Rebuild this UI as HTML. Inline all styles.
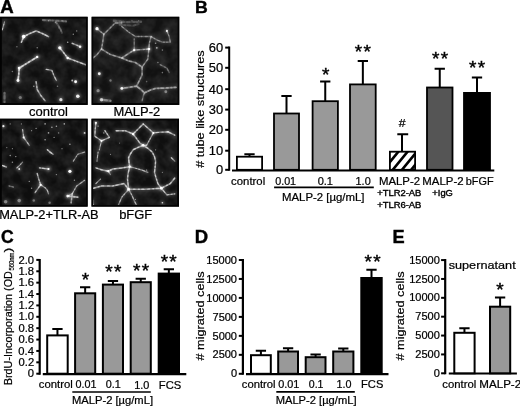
<!DOCTYPE html>
<html lang="en"><head><meta charset="utf-8"><title>Figure</title>
<style>html,body{margin:0;padding:0;background:#fff;}body{width:520px;height:408px;overflow:hidden;}svg{display:block;}</style>
</head><body>
<svg width="520" height="408" viewBox="0 0 520 408" font-family='"Liberation Sans", Arial, sans-serif' fill="#000">
<defs>
<filter id="blur1" x="-5%" y="-5%" width="110%" height="110%"><feGaussianBlur stdDeviation="0.6"/></filter>
<filter id="blur2" x="-5%" y="-5%" width="110%" height="110%"><feGaussianBlur stdDeviation="1.6"/></filter>
<filter id="noise1" x="0" y="0" width="100%" height="100%"><feTurbulence type="fractalNoise" baseFrequency="0.09" numOctaves="3" seed="7"/><feColorMatrix type="matrix" values="0 0 0 0 1  0 0 0 0 1  0 0 0 0 1  0.18 0 0 0 -0.055"/></filter>
<filter id="noise2" x="0" y="0" width="100%" height="100%"><feTurbulence type="fractalNoise" baseFrequency="0.09" numOctaves="3" seed="14"/><feColorMatrix type="matrix" values="0 0 0 0 1  0 0 0 0 1  0 0 0 0 1  0.18 0 0 0 -0.055"/></filter>
<filter id="noise3" x="0" y="0" width="100%" height="100%"><feTurbulence type="fractalNoise" baseFrequency="0.09" numOctaves="3" seed="21"/><feColorMatrix type="matrix" values="0 0 0 0 1  0 0 0 0 1  0 0 0 0 1  0.18 0 0 0 -0.055"/></filter>
<filter id="noise4" x="0" y="0" width="100%" height="100%"><feTurbulence type="fractalNoise" baseFrequency="0.09" numOctaves="3" seed="28"/><feColorMatrix type="matrix" values="0 0 0 0 1  0 0 0 0 1  0 0 0 0 1  0.18 0 0 0 -0.055"/></filter>
<clipPath id="clip1"><rect x="0" y="16.6" width="87.8" height="88.3"/></clipPath>
<clipPath id="clip2"><rect x="91.4" y="16.6" width="88.1" height="88.3"/></clipPath>
<clipPath id="clip3"><rect x="0" y="118.5" width="87.8" height="88.3"/></clipPath>
<clipPath id="clip4"><rect x="91.3" y="118.5" width="87.7" height="88.3"/></clipPath>
</defs>
<rect width="520" height="408" fill="#fff"/>
<text transform="translate(0.33 12.60) scale(1.0661 1)" font-size="17.5" font-weight="bold" stroke="#000" stroke-width="0.4">A</text>
<g clip-path="url(#clip1)">
<rect x="0" y="16.6" width="87.8" height="88.3" fill="#0f0f0f"/>
<rect x="0" y="16.6" width="87.8" height="88.3" fill="#fff" filter="url(#noise1)"/>
<g filter="url(#blur2)">
<path d="M2.3 29.8L3.6 25.3L4.5 21.9" stroke="#fff" stroke-width="3.00" stroke-opacity="0.16" fill="none" stroke-linecap="round" stroke-linejoin="round"/>
<path d="M21.4 42.2L23.7 36.6L29.3 33.8L36.1 30.9L42.9 33.8L48.5 36.6" stroke="#fff" stroke-width="3.40" stroke-opacity="0.18" fill="none" stroke-linecap="round" stroke-linejoin="round"/>
<path d="M59.8 47.8L64.3 53.5L67.7 58.0L76.7 61.4L85.7 64.8" stroke="#fff" stroke-width="3.40" stroke-opacity="0.18" fill="none" stroke-linecap="round" stroke-linejoin="round"/>
<path d="M72.2 43.3L76.7 45.1L80.1 46.7" stroke="#fff" stroke-width="3.30" stroke-opacity="0.16" fill="none" stroke-linecap="round" stroke-linejoin="round"/>
<path d="M37.2 56.9L28.2 62.5L19.2 68.1L18.7 74.9L18.0 80.5" stroke="#fff" stroke-width="3.60" stroke-opacity="0.19" fill="none" stroke-linecap="round" stroke-linejoin="round"/>
<path d="M46.2 69.3L51.9 70.4L54.1 76.0L56.4 80.5" stroke="#fff" stroke-width="3.20" stroke-opacity="0.16" fill="none" stroke-linecap="round" stroke-linejoin="round"/>
<path d="M36.1 81.7L37.2 89.6L40.6 95.2L45.1 100.8" stroke="#fff" stroke-width="3.40" stroke-opacity="0.15" fill="none" stroke-linecap="round" stroke-linejoin="round"/>
<path d="M4.5 92.9L4.5 102.0" stroke="#fff" stroke-width="4.30" stroke-opacity="0.06" fill="none" stroke-linecap="round" stroke-linejoin="round"/>
<path d="M42.9 20.1L54.1 20.5L66.1 21.4" stroke="#fff" stroke-width="4.00" stroke-opacity="0.06" fill="none" stroke-linecap="round" stroke-linejoin="round"/>
<path d="M55.9 22.1L60.0 28.0L62.0 32.9" stroke="#fff" stroke-width="3.80" stroke-opacity="0.06" fill="none" stroke-linecap="round" stroke-linejoin="round"/>
<circle cx="23.7" cy="36.6" r="3.00" fill="#fff" fill-opacity="0.35"/>
<circle cx="59.8" cy="47.8" r="2.80" fill="#fff" fill-opacity="0.35"/>
<circle cx="80.1" cy="46.7" r="2.40" fill="#fff" fill-opacity="0.32"/>
<circle cx="19.2" cy="68.1" r="2.60" fill="#fff" fill-opacity="0.35"/>
<circle cx="18.0" cy="80.5" r="2.60" fill="#fff" fill-opacity="0.35"/>
<circle cx="75.6" cy="81.7" r="2.60" fill="#fff" fill-opacity="0.35"/>
<circle cx="77.8" cy="96.3" r="3.00" fill="#fff" fill-opacity="0.32"/>
<circle cx="60.9" cy="99.7" r="2.80" fill="#fff" fill-opacity="0.28"/>
<circle cx="20.3" cy="97.5" r="2.80" fill="#fff" fill-opacity="0.12"/>
<circle cx="67.7" cy="58.0" r="2.40" fill="#fff" fill-opacity="0.35"/>
<circle cx="37.2" cy="56.9" r="2.30" fill="#fff" fill-opacity="0.35"/>
</g>
<g filter="url(#blur1)">
<path d="M2.3 29.8L3.6 25.3L4.5 21.9" stroke="#fff" stroke-width="1.14" stroke-opacity="0.44" fill="none" stroke-linecap="round" stroke-linejoin="round"/>
<path d="M2.3 29.8L3.6 25.3L4.5 21.9" stroke="#fff" stroke-width="1.08" stroke-opacity="0.44" stroke-dasharray="1.5 3.5 0.8 2.6 2 4" fill="none" stroke-linecap="round" stroke-linejoin="round"/>
<path d="M21.4 42.2L23.7 36.6L29.3 33.8L36.1 30.9L42.9 33.8L48.5 36.6" stroke="#fff" stroke-width="1.52" stroke-opacity="0.50" fill="none" stroke-linecap="round" stroke-linejoin="round"/>
<path d="M21.4 42.2L23.7 36.6L29.3 33.8L36.1 30.9L42.9 33.8L48.5 36.6" stroke="#fff" stroke-width="1.44" stroke-opacity="0.50" stroke-dasharray="0.8 2.4 2.2 3.6 1.2 3" fill="none" stroke-linecap="round" stroke-linejoin="round"/>
<path d="M59.8 47.8L64.3 53.5L67.7 58.0L76.7 61.4L85.7 64.8" stroke="#fff" stroke-width="1.52" stroke-opacity="0.50" fill="none" stroke-linecap="round" stroke-linejoin="round"/>
<path d="M59.8 47.8L64.3 53.5L67.7 58.0L76.7 61.4L85.7 64.8" stroke="#fff" stroke-width="1.44" stroke-opacity="0.50" stroke-dasharray="2 4.2 1 2.2 0.6 3.4" fill="none" stroke-linecap="round" stroke-linejoin="round"/>
<path d="M72.2 43.3L76.7 45.1L80.1 46.7" stroke="#fff" stroke-width="1.42" stroke-opacity="0.44" fill="none" stroke-linecap="round" stroke-linejoin="round"/>
<path d="M72.2 43.3L76.7 45.1L80.1 46.7" stroke="#fff" stroke-width="1.35" stroke-opacity="0.44" stroke-dasharray="1.5 3.5 0.8 2.6 2 4" fill="none" stroke-linecap="round" stroke-linejoin="round"/>
<path d="M37.2 56.9L28.2 62.5L19.2 68.1L18.7 74.9L18.0 80.5" stroke="#fff" stroke-width="1.71" stroke-opacity="0.52" fill="none" stroke-linecap="round" stroke-linejoin="round"/>
<path d="M37.2 56.9L28.2 62.5L19.2 68.1L18.7 74.9L18.0 80.5" stroke="#fff" stroke-width="1.62" stroke-opacity="0.52" stroke-dasharray="0.8 2.4 2.2 3.6 1.2 3" fill="none" stroke-linecap="round" stroke-linejoin="round"/>
<path d="M46.2 69.3L51.9 70.4L54.1 76.0L56.4 80.5" stroke="#fff" stroke-width="1.33" stroke-opacity="0.44" fill="none" stroke-linecap="round" stroke-linejoin="round"/>
<path d="M46.2 69.3L51.9 70.4L54.1 76.0L56.4 80.5" stroke="#fff" stroke-width="1.26" stroke-opacity="0.44" stroke-dasharray="2 4.2 1 2.2 0.6 3.4" fill="none" stroke-linecap="round" stroke-linejoin="round"/>
<path d="M36.1 81.7L37.2 89.6L40.6 95.2L45.1 100.8" stroke="#fff" stroke-width="1.52" stroke-opacity="0.41" fill="none" stroke-linecap="round" stroke-linejoin="round"/>
<path d="M36.1 81.7L37.2 89.6L40.6 95.2L45.1 100.8" stroke="#fff" stroke-width="1.44" stroke-opacity="0.41" stroke-dasharray="1.5 3.5 0.8 2.6 2 4" fill="none" stroke-linecap="round" stroke-linejoin="round"/>
<path d="M4.5 92.9L4.5 102.0" stroke="#fff" stroke-width="2.38" stroke-opacity="0.17" fill="none" stroke-linecap="round" stroke-linejoin="round"/>
<path d="M4.5 92.9L4.5 102.0" stroke="#fff" stroke-width="2.25" stroke-opacity="0.17" stroke-dasharray="0.8 2.4 2.2 3.6 1.2 3" fill="none" stroke-linecap="round" stroke-linejoin="round"/>
<path d="M42.9 20.1L54.1 20.5L66.1 21.4" stroke="#fff" stroke-width="2.09" stroke-opacity="0.18" fill="none" stroke-linecap="round" stroke-linejoin="round"/>
<path d="M42.9 20.1L54.1 20.5L66.1 21.4" stroke="#fff" stroke-width="1.98" stroke-opacity="0.18" stroke-dasharray="2 4.2 1 2.2 0.6 3.4" fill="none" stroke-linecap="round" stroke-linejoin="round"/>
<path d="M55.9 22.1L60.0 28.0L62.0 32.9" stroke="#fff" stroke-width="1.90" stroke-opacity="0.18" fill="none" stroke-linecap="round" stroke-linejoin="round"/>
<path d="M55.9 22.1L60.0 28.0L62.0 32.9" stroke="#fff" stroke-width="1.80" stroke-opacity="0.18" stroke-dasharray="1.5 3.5 0.8 2.6 2 4" fill="none" stroke-linecap="round" stroke-linejoin="round"/>
<circle cx="23.7" cy="36.6" r="1.80" fill="#fff" fill-opacity="1"/>
<circle cx="59.8" cy="47.8" r="1.62" fill="#fff" fill-opacity="1"/>
<circle cx="80.1" cy="46.7" r="1.26" fill="#fff" fill-opacity="0.9"/>
<circle cx="19.2" cy="68.1" r="1.44" fill="#fff" fill-opacity="1"/>
<circle cx="18.0" cy="80.5" r="1.44" fill="#fff" fill-opacity="1"/>
<circle cx="75.6" cy="81.7" r="1.44" fill="#fff" fill-opacity="1"/>
<circle cx="77.8" cy="96.3" r="1.80" fill="#fff" fill-opacity="0.9"/>
<circle cx="60.9" cy="99.7" r="1.62" fill="#fff" fill-opacity="0.8"/>
<circle cx="20.3" cy="97.5" r="1.62" fill="#fff" fill-opacity="0.35"/>
<circle cx="67.7" cy="58.0" r="1.26" fill="#fff" fill-opacity="1"/>
<circle cx="37.2" cy="56.9" r="1.17" fill="#fff" fill-opacity="1"/>
<circle cx="48.5" cy="20.8" r="0.7" fill="#fff" fill-opacity="0.35"/>
<circle cx="55.3" cy="22.6" r="0.7" fill="#fff" fill-opacity="0.35"/>
<circle cx="62.0" cy="20.8" r="0.7" fill="#fff" fill-opacity="0.35"/>
<circle cx="59.1" cy="28.0" r="0.8" fill="#fff" fill-opacity="0.4"/>
<circle cx="67.7" cy="42.2" r="0.8" fill="#fff" fill-opacity="0.6"/>
<circle cx="73.3" cy="34.3" r="0.7" fill="#fff" fill-opacity="0.5"/>
<circle cx="76.7" cy="30.9" r="0.7" fill="#fff" fill-opacity="0.5"/>
<circle cx="37.2" cy="47.8" r="0.7" fill="#fff" fill-opacity="0.5"/>
<circle cx="12.4" cy="71.5" r="0.8" fill="#fff" fill-opacity="0.4"/>
<circle cx="16.9" cy="46.7" r="0.7" fill="#fff" fill-opacity="0.4"/>
<circle cx="72.2" cy="80.5" r="0.9" fill="#fff" fill-opacity="0.7"/>
<circle cx="57.5" cy="86.2" r="0.8" fill="#fff" fill-opacity="0.4"/>
<circle cx="33.8" cy="86.2" r="0.8" fill="#fff" fill-opacity="0.5"/>
</g>
<rect x="0.9" y="17.5" width="86.0" height="86.5" fill="none" stroke="#030303" stroke-width="1.8"/>
</g>
<g clip-path="url(#clip2)">
<rect x="91.4" y="16.6" width="88.1" height="88.3" fill="#121212"/>
<rect x="91.4" y="16.6" width="88.1" height="88.3" fill="#fff" filter="url(#noise2)"/>
<g filter="url(#blur2)">
<path d="M97.0 28.7L103.8 34.3L102.7 42.2L101.5 49.0L97.0 54.6L93.0 58.0" stroke="#fff" stroke-width="3.30" stroke-opacity="0.11" fill="none" stroke-linecap="round" stroke-linejoin="round"/>
<path d="M103.8 34.3L109.4 28.7L115.1 23.0L121.8 23.0" stroke="#fff" stroke-width="3.30" stroke-opacity="0.10" fill="none" stroke-linecap="round" stroke-linejoin="round"/>
<path d="M121.8 26.4L128.6 32.0L135.4 36.5L143.2 36.5L151.1 36.5L156.8 39.9L162.4 42.2L170.3 42.2L169.2 36.5L166.9 30.9" stroke="#fff" stroke-width="3.20" stroke-opacity="0.10" fill="none" stroke-linecap="round" stroke-linejoin="round"/>
<path d="M151.1 36.5L149.3 43.3L148.9 49.0L147.8 59.1L142.1 67.0" stroke="#fff" stroke-width="3.30" stroke-opacity="0.11" fill="none" stroke-linecap="round" stroke-linejoin="round"/>
<path d="M134.2 38.8L134.2 44.4L134.2 50.1" stroke="#fff" stroke-width="3.10" stroke-opacity="0.09" fill="none" stroke-linecap="round" stroke-linejoin="round"/>
<path d="M101.5 49.0L110.5 54.6L121.8 58.0L128.6 53.5L134.2 50.1L142.1 49.6L148.9 49.0" stroke="#fff" stroke-width="3.40" stroke-opacity="0.12" fill="none" stroke-linecap="round" stroke-linejoin="round"/>
<path d="M121.8 58.0L128.6 60.9L135.4 62.5L142.1 67.0L142.1 74.9L139.4 80.5L136.5 86.2" stroke="#fff" stroke-width="3.50" stroke-opacity="0.12" fill="none" stroke-linecap="round" stroke-linejoin="round"/>
<path d="M121.8 88.4L128.6 87.3L136.5 86.2L141.0 89.5L144.4 92.9L150.0 90.2L155.6 88.4L165.8 88.0L175.9 87.3" stroke="#fff" stroke-width="3.70" stroke-opacity="0.12" fill="none" stroke-linecap="round" stroke-linejoin="round"/>
<path d="M144.4 92.9L143.2 96.3L142.1 100.8" stroke="#fff" stroke-width="3.30" stroke-opacity="0.09" fill="none" stroke-linecap="round" stroke-linejoin="round"/>
<path d="M160.2 64.7L166.9 68.1L169.2 72.6" stroke="#fff" stroke-width="3.20" stroke-opacity="0.08" fill="none" stroke-linecap="round" stroke-linejoin="round"/>
<path d="M101.5 99.7L110.5 100.8" stroke="#fff" stroke-width="4.30" stroke-opacity="0.09" fill="none" stroke-linecap="round" stroke-linejoin="round"/>
<path d="M113.9 20.8L126.3 22.1L141.0 21.7" stroke="#fff" stroke-width="4.40" stroke-opacity="0.04" fill="none" stroke-linecap="round" stroke-linejoin="round"/>
<path d="M119.6 24.8L133.1 25.7L138.7 24.1" stroke="#fff" stroke-width="4.00" stroke-opacity="0.04" fill="none" stroke-linecap="round" stroke-linejoin="round"/>
<circle cx="97.0" cy="28.7" r="2.80" fill="#fff" fill-opacity="0.35"/>
<circle cx="99.3" cy="73.8" r="2.60" fill="#fff" fill-opacity="0.32"/>
<circle cx="98.1" cy="90.7" r="2.80" fill="#fff" fill-opacity="0.14"/>
<circle cx="121.8" cy="88.4" r="2.60" fill="#fff" fill-opacity="0.32"/>
<circle cx="148.9" cy="49.0" r="2.50" fill="#fff" fill-opacity="0.35"/>
<circle cx="134.2" cy="50.1" r="2.30" fill="#fff" fill-opacity="0.35"/>
<circle cx="166.9" cy="30.9" r="2.20" fill="#fff" fill-opacity="0.32"/>
<circle cx="165.8" cy="91.8" r="2.60" fill="#fff" fill-opacity="0.14"/>
<circle cx="101.5" cy="99.7" r="3.00" fill="#fff" fill-opacity="0.21"/>
<circle cx="110.5" cy="80.5" r="2.30" fill="#fff" fill-opacity="0.12"/>
<circle cx="156.8" cy="47.8" r="2.00" fill="#fff" fill-opacity="0.21"/>
</g>
<g filter="url(#blur1)">
<path d="M97.0 28.7L103.8 34.3L102.7 42.2L101.5 49.0L97.0 54.6L93.0 58.0" stroke="#fff" stroke-width="1.42" stroke-opacity="0.30" fill="none" stroke-linecap="round" stroke-linejoin="round"/>
<path d="M97.0 28.7L103.8 34.3L102.7 42.2L101.5 49.0L97.0 54.6L93.0 58.0" stroke="#fff" stroke-width="1.35" stroke-opacity="0.30" stroke-dasharray="1.5 3.5 0.8 2.6 2 4" fill="none" stroke-linecap="round" stroke-linejoin="round"/>
<path d="M103.8 34.3L109.4 28.7L115.1 23.0L121.8 23.0" stroke="#fff" stroke-width="1.42" stroke-opacity="0.28" fill="none" stroke-linecap="round" stroke-linejoin="round"/>
<path d="M103.8 34.3L109.4 28.7L115.1 23.0L121.8 23.0" stroke="#fff" stroke-width="1.35" stroke-opacity="0.28" stroke-dasharray="0.8 2.4 2.2 3.6 1.2 3" fill="none" stroke-linecap="round" stroke-linejoin="round"/>
<path d="M121.8 26.4L128.6 32.0L135.4 36.5L143.2 36.5L151.1 36.5L156.8 39.9L162.4 42.2L170.3 42.2L169.2 36.5L166.9 30.9" stroke="#fff" stroke-width="1.33" stroke-opacity="0.28" fill="none" stroke-linecap="round" stroke-linejoin="round"/>
<path d="M121.8 26.4L128.6 32.0L135.4 36.5L143.2 36.5L151.1 36.5L156.8 39.9L162.4 42.2L170.3 42.2L169.2 36.5L166.9 30.9" stroke="#fff" stroke-width="1.26" stroke-opacity="0.28" stroke-dasharray="2 4.2 1 2.2 0.6 3.4" fill="none" stroke-linecap="round" stroke-linejoin="round"/>
<path d="M151.1 36.5L149.3 43.3L148.9 49.0L147.8 59.1L142.1 67.0" stroke="#fff" stroke-width="1.42" stroke-opacity="0.30" fill="none" stroke-linecap="round" stroke-linejoin="round"/>
<path d="M151.1 36.5L149.3 43.3L148.9 49.0L147.8 59.1L142.1 67.0" stroke="#fff" stroke-width="1.35" stroke-opacity="0.30" stroke-dasharray="1.5 3.5 0.8 2.6 2 4" fill="none" stroke-linecap="round" stroke-linejoin="round"/>
<path d="M134.2 38.8L134.2 44.4L134.2 50.1" stroke="#fff" stroke-width="1.23" stroke-opacity="0.24" fill="none" stroke-linecap="round" stroke-linejoin="round"/>
<path d="M134.2 38.8L134.2 44.4L134.2 50.1" stroke="#fff" stroke-width="1.17" stroke-opacity="0.24" stroke-dasharray="0.8 2.4 2.2 3.6 1.2 3" fill="none" stroke-linecap="round" stroke-linejoin="round"/>
<path d="M101.5 49.0L110.5 54.6L121.8 58.0L128.6 53.5L134.2 50.1L142.1 49.6L148.9 49.0" stroke="#fff" stroke-width="1.52" stroke-opacity="0.32" fill="none" stroke-linecap="round" stroke-linejoin="round"/>
<path d="M101.5 49.0L110.5 54.6L121.8 58.0L128.6 53.5L134.2 50.1L142.1 49.6L148.9 49.0" stroke="#fff" stroke-width="1.44" stroke-opacity="0.32" stroke-dasharray="2 4.2 1 2.2 0.6 3.4" fill="none" stroke-linecap="round" stroke-linejoin="round"/>
<path d="M121.8 58.0L128.6 60.9L135.4 62.5L142.1 67.0L142.1 74.9L139.4 80.5L136.5 86.2" stroke="#fff" stroke-width="1.61" stroke-opacity="0.32" fill="none" stroke-linecap="round" stroke-linejoin="round"/>
<path d="M121.8 58.0L128.6 60.9L135.4 62.5L142.1 67.0L142.1 74.9L139.4 80.5L136.5 86.2" stroke="#fff" stroke-width="1.53" stroke-opacity="0.32" stroke-dasharray="1.5 3.5 0.8 2.6 2 4" fill="none" stroke-linecap="round" stroke-linejoin="round"/>
<path d="M121.8 88.4L128.6 87.3L136.5 86.2L141.0 89.5L144.4 92.9L150.0 90.2L155.6 88.4L165.8 88.0L175.9 87.3" stroke="#fff" stroke-width="1.80" stroke-opacity="0.32" fill="none" stroke-linecap="round" stroke-linejoin="round"/>
<path d="M121.8 88.4L128.6 87.3L136.5 86.2L141.0 89.5L144.4 92.9L150.0 90.2L155.6 88.4L165.8 88.0L175.9 87.3" stroke="#fff" stroke-width="1.71" stroke-opacity="0.32" stroke-dasharray="0.8 2.4 2.2 3.6 1.2 3" fill="none" stroke-linecap="round" stroke-linejoin="round"/>
<path d="M144.4 92.9L143.2 96.3L142.1 100.8" stroke="#fff" stroke-width="1.42" stroke-opacity="0.24" fill="none" stroke-linecap="round" stroke-linejoin="round"/>
<path d="M144.4 92.9L143.2 96.3L142.1 100.8" stroke="#fff" stroke-width="1.35" stroke-opacity="0.24" stroke-dasharray="2 4.2 1 2.2 0.6 3.4" fill="none" stroke-linecap="round" stroke-linejoin="round"/>
<path d="M160.2 64.7L166.9 68.1L169.2 72.6" stroke="#fff" stroke-width="1.33" stroke-opacity="0.22" fill="none" stroke-linecap="round" stroke-linejoin="round"/>
<path d="M160.2 64.7L166.9 68.1L169.2 72.6" stroke="#fff" stroke-width="1.26" stroke-opacity="0.22" stroke-dasharray="1.5 3.5 0.8 2.6 2 4" fill="none" stroke-linecap="round" stroke-linejoin="round"/>
<path d="M101.5 99.7L110.5 100.8" stroke="#fff" stroke-width="2.38" stroke-opacity="0.24" fill="none" stroke-linecap="round" stroke-linejoin="round"/>
<path d="M101.5 99.7L110.5 100.8" stroke="#fff" stroke-width="2.25" stroke-opacity="0.24" stroke-dasharray="0.8 2.4 2.2 3.6 1.2 3" fill="none" stroke-linecap="round" stroke-linejoin="round"/>
<path d="M113.9 20.8L126.3 22.1L141.0 21.7" stroke="#fff" stroke-width="2.47" stroke-opacity="0.12" fill="none" stroke-linecap="round" stroke-linejoin="round"/>
<path d="M113.9 20.8L126.3 22.1L141.0 21.7" stroke="#fff" stroke-width="2.34" stroke-opacity="0.12" stroke-dasharray="2 4.2 1 2.2 0.6 3.4" fill="none" stroke-linecap="round" stroke-linejoin="round"/>
<path d="M119.6 24.8L133.1 25.7L138.7 24.1" stroke="#fff" stroke-width="2.09" stroke-opacity="0.11" fill="none" stroke-linecap="round" stroke-linejoin="round"/>
<path d="M119.6 24.8L133.1 25.7L138.7 24.1" stroke="#fff" stroke-width="1.98" stroke-opacity="0.11" stroke-dasharray="1.5 3.5 0.8 2.6 2 4" fill="none" stroke-linecap="round" stroke-linejoin="round"/>
<circle cx="97.0" cy="28.7" r="1.62" fill="#fff" fill-opacity="1"/>
<circle cx="99.3" cy="73.8" r="1.44" fill="#fff" fill-opacity="0.9"/>
<circle cx="98.1" cy="90.7" r="1.62" fill="#fff" fill-opacity="0.4"/>
<circle cx="121.8" cy="88.4" r="1.44" fill="#fff" fill-opacity="0.9"/>
<circle cx="148.9" cy="49.0" r="1.35" fill="#fff" fill-opacity="1"/>
<circle cx="134.2" cy="50.1" r="1.17" fill="#fff" fill-opacity="1"/>
<circle cx="166.9" cy="30.9" r="1.08" fill="#fff" fill-opacity="0.9"/>
<circle cx="165.8" cy="91.8" r="1.44" fill="#fff" fill-opacity="0.4"/>
<circle cx="101.5" cy="99.7" r="1.80" fill="#fff" fill-opacity="0.6"/>
<circle cx="110.5" cy="80.5" r="1.17" fill="#fff" fill-opacity="0.35"/>
<circle cx="156.8" cy="47.8" r="0.90" fill="#fff" fill-opacity="0.6"/>
<circle cx="121.8" cy="21.9" r="0.7" fill="#fff" fill-opacity="0.3"/>
<circle cx="132.0" cy="20.8" r="0.7" fill="#fff" fill-opacity="0.3"/>
<circle cx="138.7" cy="20.8" r="0.7" fill="#fff" fill-opacity="0.3"/>
<circle cx="155.6" cy="43.3" r="0.8" fill="#fff" fill-opacity="0.5"/>
<circle cx="162.4" cy="50.1" r="0.8" fill="#fff" fill-opacity="0.4"/>
<circle cx="157.9" cy="62.5" r="0.8" fill="#fff" fill-opacity="0.4"/>
<circle cx="146.6" cy="81.6" r="0.8" fill="#fff" fill-opacity="0.3"/>
<circle cx="162.4" cy="72.6" r="0.8" fill="#fff" fill-opacity="0.4"/>
</g>
<rect x="92.30000000000001" y="17.5" width="86.3" height="86.5" fill="none" stroke="#030303" stroke-width="1.8"/>
</g>
<g clip-path="url(#clip3)">
<rect x="0" y="118.5" width="87.8" height="88.3" fill="#0e0e0e"/>
<rect x="0" y="118.5" width="87.8" height="88.3" fill="#fff" filter="url(#noise3)"/>
<g filter="url(#blur2)">
<path d="M22.6 129.5L23.2 134.0L23.7 137.4L29.3 145.3" stroke="#fff" stroke-width="3.10" stroke-opacity="0.15" fill="none" stroke-linecap="round" stroke-linejoin="round"/>
<path d="M47.4 149.8L50.1 152.1L53.0 154.3" stroke="#fff" stroke-width="3.30" stroke-opacity="0.18" fill="none" stroke-linecap="round" stroke-linejoin="round"/>
<path d="M84.6 152.1L77.8 154.3L73.3 161.1" stroke="#fff" stroke-width="3.00" stroke-opacity="0.13" fill="none" stroke-linecap="round" stroke-linejoin="round"/>
<path d="M16.9 167.9L19.8 165.2L22.6 162.2" stroke="#fff" stroke-width="3.00" stroke-opacity="0.15" fill="none" stroke-linecap="round" stroke-linejoin="round"/>
<path d="M39.5 167.9L48.5 169.0" stroke="#fff" stroke-width="3.30" stroke-opacity="0.17" fill="none" stroke-linecap="round" stroke-linejoin="round"/>
<path d="M37.2 173.5L38.8 179.2L40.6 184.8L37.9 188.6L35.0 192.7" stroke="#fff" stroke-width="3.20" stroke-opacity="0.16" fill="none" stroke-linecap="round" stroke-linejoin="round"/>
<path d="M40.6 184.8L45.1 187.7L47.4 190.4L48.5 193.8" stroke="#fff" stroke-width="3.10" stroke-opacity="0.15" fill="none" stroke-linecap="round" stroke-linejoin="round"/>
<path d="M84.6 180.3L76.7 185.9L72.2 193.8L67.7 196.1" stroke="#fff" stroke-width="3.10" stroke-opacity="0.14" fill="none" stroke-linecap="round" stroke-linejoin="round"/>
<path d="M67.7 196.1L77.8 197.2" stroke="#fff" stroke-width="3.60" stroke-opacity="0.15" fill="none" stroke-linecap="round" stroke-linejoin="round"/>
<path d="M72.2 193.8L71.1 202.8" stroke="#fff" stroke-width="3.40" stroke-opacity="0.13" fill="none" stroke-linecap="round" stroke-linejoin="round"/>
<path d="M9.0 185.9L13.5 187.1" stroke="#fff" stroke-width="3.00" stroke-opacity="0.10" fill="none" stroke-linecap="round" stroke-linejoin="round"/>
<path d="M2.7 165.6L6.3 167.0" stroke="#fff" stroke-width="3.40" stroke-opacity="0.18" fill="none" stroke-linecap="round" stroke-linejoin="round"/>
<circle cx="3.4" cy="126.2" r="2.20" fill="#fff" fill-opacity="0.32"/>
<circle cx="69.9" cy="171.3" r="2.80" fill="#fff" fill-opacity="0.35"/>
<circle cx="48.5" cy="169.0" r="2.20" fill="#fff" fill-opacity="0.35"/>
<circle cx="23.7" cy="137.4" r="2.20" fill="#fff" fill-opacity="0.32"/>
<circle cx="5.6" cy="201.7" r="3.00" fill="#fff" fill-opacity="0.14"/>
<circle cx="19.2" cy="200.6" r="3.00" fill="#fff" fill-opacity="0.14"/>
<circle cx="33.8" cy="200.6" r="2.40" fill="#fff" fill-opacity="0.12"/>
<circle cx="49.6" cy="202.8" r="2.40" fill="#fff" fill-opacity="0.12"/>
<circle cx="67.7" cy="196.1" r="2.50" fill="#fff" fill-opacity="0.32"/>
<circle cx="40.6" cy="184.8" r="2.20" fill="#fff" fill-opacity="0.35"/>
<circle cx="19.2" cy="169.0" r="2.00" fill="#fff" fill-opacity="0.32"/>
<circle cx="84.6" cy="132.9" r="2.00" fill="#fff" fill-opacity="0.28"/>
</g>
<g filter="url(#blur1)">
<path d="M22.6 129.5L23.2 134.0L23.7 137.4L29.3 145.3" stroke="#fff" stroke-width="1.23" stroke-opacity="0.42" fill="none" stroke-linecap="round" stroke-linejoin="round"/>
<path d="M22.6 129.5L23.2 134.0L23.7 137.4L29.3 145.3" stroke="#fff" stroke-width="1.17" stroke-opacity="0.42" stroke-dasharray="1.5 3.5 0.8 2.6 2 4" fill="none" stroke-linecap="round" stroke-linejoin="round"/>
<path d="M47.4 149.8L50.1 152.1L53.0 154.3" stroke="#fff" stroke-width="1.42" stroke-opacity="0.50" fill="none" stroke-linecap="round" stroke-linejoin="round"/>
<path d="M47.4 149.8L50.1 152.1L53.0 154.3" stroke="#fff" stroke-width="1.35" stroke-opacity="0.50" stroke-dasharray="0.8 2.4 2.2 3.6 1.2 3" fill="none" stroke-linecap="round" stroke-linejoin="round"/>
<path d="M84.6 152.1L77.8 154.3L73.3 161.1" stroke="#fff" stroke-width="1.14" stroke-opacity="0.37" fill="none" stroke-linecap="round" stroke-linejoin="round"/>
<path d="M84.6 152.1L77.8 154.3L73.3 161.1" stroke="#fff" stroke-width="1.08" stroke-opacity="0.37" stroke-dasharray="2 4.2 1 2.2 0.6 3.4" fill="none" stroke-linecap="round" stroke-linejoin="round"/>
<path d="M16.9 167.9L19.8 165.2L22.6 162.2" stroke="#fff" stroke-width="1.14" stroke-opacity="0.42" fill="none" stroke-linecap="round" stroke-linejoin="round"/>
<path d="M16.9 167.9L19.8 165.2L22.6 162.2" stroke="#fff" stroke-width="1.08" stroke-opacity="0.42" stroke-dasharray="1.5 3.5 0.8 2.6 2 4" fill="none" stroke-linecap="round" stroke-linejoin="round"/>
<path d="M39.5 167.9L48.5 169.0" stroke="#fff" stroke-width="1.42" stroke-opacity="0.47" fill="none" stroke-linecap="round" stroke-linejoin="round"/>
<path d="M39.5 167.9L48.5 169.0" stroke="#fff" stroke-width="1.35" stroke-opacity="0.47" stroke-dasharray="0.8 2.4 2.2 3.6 1.2 3" fill="none" stroke-linecap="round" stroke-linejoin="round"/>
<path d="M37.2 173.5L38.8 179.2L40.6 184.8L37.9 188.6L35.0 192.7" stroke="#fff" stroke-width="1.33" stroke-opacity="0.44" fill="none" stroke-linecap="round" stroke-linejoin="round"/>
<path d="M37.2 173.5L38.8 179.2L40.6 184.8L37.9 188.6L35.0 192.7" stroke="#fff" stroke-width="1.26" stroke-opacity="0.44" stroke-dasharray="2 4.2 1 2.2 0.6 3.4" fill="none" stroke-linecap="round" stroke-linejoin="round"/>
<path d="M40.6 184.8L45.1 187.7L47.4 190.4L48.5 193.8" stroke="#fff" stroke-width="1.23" stroke-opacity="0.42" fill="none" stroke-linecap="round" stroke-linejoin="round"/>
<path d="M40.6 184.8L45.1 187.7L47.4 190.4L48.5 193.8" stroke="#fff" stroke-width="1.17" stroke-opacity="0.42" stroke-dasharray="1.5 3.5 0.8 2.6 2 4" fill="none" stroke-linecap="round" stroke-linejoin="round"/>
<path d="M84.6 180.3L76.7 185.9L72.2 193.8L67.7 196.1" stroke="#fff" stroke-width="1.23" stroke-opacity="0.39" fill="none" stroke-linecap="round" stroke-linejoin="round"/>
<path d="M84.6 180.3L76.7 185.9L72.2 193.8L67.7 196.1" stroke="#fff" stroke-width="1.17" stroke-opacity="0.39" stroke-dasharray="0.8 2.4 2.2 3.6 1.2 3" fill="none" stroke-linecap="round" stroke-linejoin="round"/>
<path d="M67.7 196.1L77.8 197.2" stroke="#fff" stroke-width="1.71" stroke-opacity="0.42" fill="none" stroke-linecap="round" stroke-linejoin="round"/>
<path d="M67.7 196.1L77.8 197.2" stroke="#fff" stroke-width="1.62" stroke-opacity="0.42" stroke-dasharray="2 4.2 1 2.2 0.6 3.4" fill="none" stroke-linecap="round" stroke-linejoin="round"/>
<path d="M72.2 193.8L71.1 202.8" stroke="#fff" stroke-width="1.52" stroke-opacity="0.37" fill="none" stroke-linecap="round" stroke-linejoin="round"/>
<path d="M72.2 193.8L71.1 202.8" stroke="#fff" stroke-width="1.44" stroke-opacity="0.37" stroke-dasharray="1.5 3.5 0.8 2.6 2 4" fill="none" stroke-linecap="round" stroke-linejoin="round"/>
<path d="M9.0 185.9L13.5 187.1" stroke="#fff" stroke-width="1.14" stroke-opacity="0.26" fill="none" stroke-linecap="round" stroke-linejoin="round"/>
<path d="M9.0 185.9L13.5 187.1" stroke="#fff" stroke-width="1.08" stroke-opacity="0.26" stroke-dasharray="0.8 2.4 2.2 3.6 1.2 3" fill="none" stroke-linecap="round" stroke-linejoin="round"/>
<path d="M2.7 165.6L6.3 167.0" stroke="#fff" stroke-width="1.52" stroke-opacity="0.50" fill="none" stroke-linecap="round" stroke-linejoin="round"/>
<path d="M2.7 165.6L6.3 167.0" stroke="#fff" stroke-width="1.44" stroke-opacity="0.50" stroke-dasharray="2 4.2 1 2.2 0.6 3.4" fill="none" stroke-linecap="round" stroke-linejoin="round"/>
<circle cx="3.4" cy="126.2" r="1.08" fill="#fff" fill-opacity="0.9"/>
<circle cx="69.9" cy="171.3" r="1.62" fill="#fff" fill-opacity="1"/>
<circle cx="48.5" cy="169.0" r="1.08" fill="#fff" fill-opacity="1"/>
<circle cx="23.7" cy="137.4" r="1.08" fill="#fff" fill-opacity="0.9"/>
<circle cx="5.6" cy="201.7" r="1.80" fill="#fff" fill-opacity="0.4"/>
<circle cx="19.2" cy="200.6" r="1.80" fill="#fff" fill-opacity="0.4"/>
<circle cx="33.8" cy="200.6" r="1.26" fill="#fff" fill-opacity="0.35"/>
<circle cx="49.6" cy="202.8" r="1.26" fill="#fff" fill-opacity="0.35"/>
<circle cx="67.7" cy="196.1" r="1.35" fill="#fff" fill-opacity="0.9"/>
<circle cx="40.6" cy="184.8" r="1.08" fill="#fff" fill-opacity="1"/>
<circle cx="19.2" cy="169.0" r="0.90" fill="#fff" fill-opacity="0.9"/>
<circle cx="84.6" cy="132.9" r="0.90" fill="#fff" fill-opacity="0.8"/>
<circle cx="45.1" cy="123.9" r="0.8" fill="#fff" fill-opacity="0.6"/>
<circle cx="51.9" cy="127.3" r="0.8" fill="#fff" fill-opacity="0.6"/>
<circle cx="56.4" cy="126.2" r="0.8" fill="#fff" fill-opacity="0.6"/>
<circle cx="48.5" cy="132.9" r="0.8" fill="#fff" fill-opacity="0.6"/>
<circle cx="45.1" cy="139.7" r="0.8" fill="#fff" fill-opacity="0.6"/>
<circle cx="36.1" cy="128.4" r="0.7" fill="#fff" fill-opacity="0.5"/>
<circle cx="64.3" cy="123.9" r="0.8" fill="#fff" fill-opacity="0.6"/>
<circle cx="69.9" cy="144.2" r="0.8" fill="#fff" fill-opacity="0.6"/>
<circle cx="10.2" cy="155.5" r="0.7" fill="#fff" fill-opacity="0.6"/>
<circle cx="15.8" cy="156.6" r="0.7" fill="#fff" fill-opacity="0.6"/>
<circle cx="12.4" cy="162.2" r="0.7" fill="#fff" fill-opacity="0.5"/>
<circle cx="6.8" cy="147.6" r="0.6" fill="#fff" fill-opacity="0.5"/>
<circle cx="12.4" cy="148.7" r="0.6" fill="#fff" fill-opacity="0.5"/>
<circle cx="31.6" cy="130.7" r="0.6" fill="#fff" fill-opacity="0.5"/>
<circle cx="58.6" cy="132.9" r="0.7" fill="#fff" fill-opacity="0.5"/>
<circle cx="54.1" cy="137.4" r="0.7" fill="#fff" fill-opacity="0.5"/>
<circle cx="62.0" cy="148.7" r="0.6" fill="#fff" fill-opacity="0.5"/>
<circle cx="29.3" cy="181.4" r="0.7" fill="#fff" fill-opacity="0.5"/>
<circle cx="56.4" cy="174.6" r="0.7" fill="#fff" fill-opacity="0.5"/>
<circle cx="10.2" cy="123.9" r="0.6" fill="#fff" fill-opacity="0.5"/>
<circle cx="21.4" cy="123.9" r="0.6" fill="#fff" fill-opacity="0.5"/>
<circle cx="74.4" cy="180.3" r="0.7" fill="#fff" fill-opacity="0.5"/>
<circle cx="31.6" cy="188.2" r="0.7" fill="#fff" fill-opacity="0.5"/>
</g>
<rect x="0.9" y="119.4" width="86.0" height="86.5" fill="none" stroke="#030303" stroke-width="1.8"/>
</g>
<g clip-path="url(#clip4)">
<rect x="91.3" y="118.5" width="87.7" height="88.3" fill="#0f0f0f"/>
<rect x="91.3" y="118.5" width="87.7" height="88.3" fill="#fff" filter="url(#noise4)"/>
<g filter="url(#blur2)">
<path d="M95.9 122.8L95.2 129.5L94.8 136.3L101.5 140.8L109.4 137.4L104.9 130.7" stroke="#fff" stroke-width="3.20" stroke-opacity="0.17" fill="none" stroke-linecap="round" stroke-linejoin="round"/>
<path d="M101.5 140.8L99.3 149.8" stroke="#fff" stroke-width="3.00" stroke-opacity="0.14" fill="none" stroke-linecap="round" stroke-linejoin="round"/>
<path d="M116.2 130.7L125.2 130.7L133.1 134.0L138.1 129.1L143.2 123.9" stroke="#fff" stroke-width="3.30" stroke-opacity="0.17" fill="none" stroke-linecap="round" stroke-linejoin="round"/>
<path d="M133.1 134.0L136.5 138.5L139.9 143.1L143.2 145.3" stroke="#fff" stroke-width="3.20" stroke-opacity="0.17" fill="none" stroke-linecap="round" stroke-linejoin="round"/>
<path d="M143.2 123.9L148.4 128.4L153.4 132.9L160.6 132.2L168.0 131.8L174.8 135.2" stroke="#fff" stroke-width="3.20" stroke-opacity="0.17" fill="none" stroke-linecap="round" stroke-linejoin="round"/>
<path d="M153.4 132.9L150.0 139.0L146.6 145.3L143.2 145.3" stroke="#fff" stroke-width="3.10" stroke-opacity="0.16" fill="none" stroke-linecap="round" stroke-linejoin="round"/>
<path d="M143.2 145.3L137.6 147.6L133.1 149.8L130.4 153.9L128.6 157.7L129.0 162.2L129.7 166.7L121.8 167.9L112.8 169.0L108.3 171.2L101.5 169.7L95.9 167.9" stroke="#fff" stroke-width="3.40" stroke-opacity="0.18" fill="none" stroke-linecap="round" stroke-linejoin="round"/>
<path d="M143.2 145.3L148.4 148.7L152.3 152.1L154.5 156.6L155.6 161.1L155.2 166.7L154.5 172.4L156.1 178.0L157.9 183.6L161.3 188.2" stroke="#fff" stroke-width="3.30" stroke-opacity="0.17" fill="none" stroke-linecap="round" stroke-linejoin="round"/>
<path d="M129.7 166.7L136.5 168.5L142.1 170.1L147.8 172.4" stroke="#fff" stroke-width="3.10" stroke-opacity="0.16" fill="none" stroke-linecap="round" stroke-linejoin="round"/>
<path d="M108.3 171.2L110.5 174.6" stroke="#fff" stroke-width="3.00" stroke-opacity="0.14" fill="none" stroke-linecap="round" stroke-linejoin="round"/>
<path d="M129.7 166.7L128.1 173.5L127.5 179.1L128.6 189.3" stroke="#fff" stroke-width="3.30" stroke-opacity="0.17" fill="none" stroke-linecap="round" stroke-linejoin="round"/>
<path d="M95.9 183.6L100.4 179.1" stroke="#fff" stroke-width="3.00" stroke-opacity="0.14" fill="none" stroke-linecap="round" stroke-linejoin="round"/>
<path d="M93.6 188.2L101.5 185.9L112.8 185.9L124.1 183.6L128.6 189.3L136.5 189.3L144.4 189.3L153.4 188.8L161.3 188.2L170.3 183.6L174.8 178.0" stroke="#fff" stroke-width="3.40" stroke-opacity="0.17" fill="none" stroke-linecap="round" stroke-linejoin="round"/>
<path d="M161.3 188.2L166.9 194.9L174.8 193.8" stroke="#fff" stroke-width="3.20" stroke-opacity="0.16" fill="none" stroke-linecap="round" stroke-linejoin="round"/>
<path d="M128.6 189.3L121.8 197.2L118.4 205.1" stroke="#fff" stroke-width="3.10" stroke-opacity="0.15" fill="none" stroke-linecap="round" stroke-linejoin="round"/>
<path d="M128.6 189.3L132.0 195.4L134.2 200.6L136.5 205.1" stroke="#fff" stroke-width="3.10" stroke-opacity="0.15" fill="none" stroke-linecap="round" stroke-linejoin="round"/>
<path d="M98.1 152.1L97.5 156.6L97.0 161.1" stroke="#fff" stroke-width="3.00" stroke-opacity="0.14" fill="none" stroke-linecap="round" stroke-linejoin="round"/>
<path d="M171.4 157.7L174.8 161.1" stroke="#fff" stroke-width="3.20" stroke-opacity="0.16" fill="none" stroke-linecap="round" stroke-linejoin="round"/>
<path d="M92.5 199.4L93.6 205.1" stroke="#fff" stroke-width="3.00" stroke-opacity="0.12" fill="none" stroke-linecap="round" stroke-linejoin="round"/>
<circle cx="133.1" cy="134.0" r="2.30" fill="#fff" fill-opacity="0.35"/>
<circle cx="143.2" cy="145.3" r="2.40" fill="#fff" fill-opacity="0.35"/>
<circle cx="128.6" cy="189.3" r="2.40" fill="#fff" fill-opacity="0.35"/>
<circle cx="161.3" cy="188.2" r="2.50" fill="#fff" fill-opacity="0.35"/>
<circle cx="108.3" cy="171.2" r="2.20" fill="#fff" fill-opacity="0.35"/>
<circle cx="129.7" cy="166.7" r="2.20" fill="#fff" fill-opacity="0.35"/>
<circle cx="95.9" cy="122.8" r="2.20" fill="#fff" fill-opacity="0.32"/>
<circle cx="101.5" cy="140.8" r="2.20" fill="#fff" fill-opacity="0.35"/>
<circle cx="153.4" cy="132.9" r="2.10" fill="#fff" fill-opacity="0.35"/>
<circle cx="162.4" cy="202.8" r="1.90" fill="#fff" fill-opacity="0.28"/>
<circle cx="168.0" cy="131.8" r="2.00" fill="#fff" fill-opacity="0.32"/>
</g>
<g filter="url(#blur1)">
<path d="M95.9 122.8L95.2 129.5L94.8 136.3L101.5 140.8L109.4 137.4L104.9 130.7" stroke="#fff" stroke-width="1.33" stroke-opacity="0.47" fill="none" stroke-linecap="round" stroke-linejoin="round"/>
<path d="M95.9 122.8L95.2 129.5L94.8 136.3L101.5 140.8L109.4 137.4L104.9 130.7" stroke="#fff" stroke-width="1.26" stroke-opacity="0.47" stroke-dasharray="1.5 3.5 0.8 2.6 2 4" fill="none" stroke-linecap="round" stroke-linejoin="round"/>
<path d="M101.5 140.8L99.3 149.8" stroke="#fff" stroke-width="1.14" stroke-opacity="0.39" fill="none" stroke-linecap="round" stroke-linejoin="round"/>
<path d="M101.5 140.8L99.3 149.8" stroke="#fff" stroke-width="1.08" stroke-opacity="0.39" stroke-dasharray="0.8 2.4 2.2 3.6 1.2 3" fill="none" stroke-linecap="round" stroke-linejoin="round"/>
<path d="M116.2 130.7L125.2 130.7L133.1 134.0L138.1 129.1L143.2 123.9" stroke="#fff" stroke-width="1.42" stroke-opacity="0.47" fill="none" stroke-linecap="round" stroke-linejoin="round"/>
<path d="M116.2 130.7L125.2 130.7L133.1 134.0L138.1 129.1L143.2 123.9" stroke="#fff" stroke-width="1.35" stroke-opacity="0.47" stroke-dasharray="2 4.2 1 2.2 0.6 3.4" fill="none" stroke-linecap="round" stroke-linejoin="round"/>
<path d="M133.1 134.0L136.5 138.5L139.9 143.1L143.2 145.3" stroke="#fff" stroke-width="1.33" stroke-opacity="0.47" fill="none" stroke-linecap="round" stroke-linejoin="round"/>
<path d="M133.1 134.0L136.5 138.5L139.9 143.1L143.2 145.3" stroke="#fff" stroke-width="1.26" stroke-opacity="0.47" stroke-dasharray="1.5 3.5 0.8 2.6 2 4" fill="none" stroke-linecap="round" stroke-linejoin="round"/>
<path d="M143.2 123.9L148.4 128.4L153.4 132.9L160.6 132.2L168.0 131.8L174.8 135.2" stroke="#fff" stroke-width="1.33" stroke-opacity="0.47" fill="none" stroke-linecap="round" stroke-linejoin="round"/>
<path d="M143.2 123.9L148.4 128.4L153.4 132.9L160.6 132.2L168.0 131.8L174.8 135.2" stroke="#fff" stroke-width="1.26" stroke-opacity="0.47" stroke-dasharray="0.8 2.4 2.2 3.6 1.2 3" fill="none" stroke-linecap="round" stroke-linejoin="round"/>
<path d="M153.4 132.9L150.0 139.0L146.6 145.3L143.2 145.3" stroke="#fff" stroke-width="1.23" stroke-opacity="0.44" fill="none" stroke-linecap="round" stroke-linejoin="round"/>
<path d="M153.4 132.9L150.0 139.0L146.6 145.3L143.2 145.3" stroke="#fff" stroke-width="1.17" stroke-opacity="0.44" stroke-dasharray="2 4.2 1 2.2 0.6 3.4" fill="none" stroke-linecap="round" stroke-linejoin="round"/>
<path d="M143.2 145.3L137.6 147.6L133.1 149.8L130.4 153.9L128.6 157.7L129.0 162.2L129.7 166.7L121.8 167.9L112.8 169.0L108.3 171.2L101.5 169.7L95.9 167.9" stroke="#fff" stroke-width="1.52" stroke-opacity="0.50" fill="none" stroke-linecap="round" stroke-linejoin="round"/>
<path d="M143.2 145.3L137.6 147.6L133.1 149.8L130.4 153.9L128.6 157.7L129.0 162.2L129.7 166.7L121.8 167.9L112.8 169.0L108.3 171.2L101.5 169.7L95.9 167.9" stroke="#fff" stroke-width="1.44" stroke-opacity="0.50" stroke-dasharray="1.5 3.5 0.8 2.6 2 4" fill="none" stroke-linecap="round" stroke-linejoin="round"/>
<path d="M143.2 145.3L148.4 148.7L152.3 152.1L154.5 156.6L155.6 161.1L155.2 166.7L154.5 172.4L156.1 178.0L157.9 183.6L161.3 188.2" stroke="#fff" stroke-width="1.42" stroke-opacity="0.47" fill="none" stroke-linecap="round" stroke-linejoin="round"/>
<path d="M143.2 145.3L148.4 148.7L152.3 152.1L154.5 156.6L155.6 161.1L155.2 166.7L154.5 172.4L156.1 178.0L157.9 183.6L161.3 188.2" stroke="#fff" stroke-width="1.35" stroke-opacity="0.47" stroke-dasharray="0.8 2.4 2.2 3.6 1.2 3" fill="none" stroke-linecap="round" stroke-linejoin="round"/>
<path d="M129.7 166.7L136.5 168.5L142.1 170.1L147.8 172.4" stroke="#fff" stroke-width="1.23" stroke-opacity="0.44" fill="none" stroke-linecap="round" stroke-linejoin="round"/>
<path d="M129.7 166.7L136.5 168.5L142.1 170.1L147.8 172.4" stroke="#fff" stroke-width="1.17" stroke-opacity="0.44" stroke-dasharray="2 4.2 1 2.2 0.6 3.4" fill="none" stroke-linecap="round" stroke-linejoin="round"/>
<path d="M108.3 171.2L110.5 174.6" stroke="#fff" stroke-width="1.14" stroke-opacity="0.39" fill="none" stroke-linecap="round" stroke-linejoin="round"/>
<path d="M108.3 171.2L110.5 174.6" stroke="#fff" stroke-width="1.08" stroke-opacity="0.39" stroke-dasharray="1.5 3.5 0.8 2.6 2 4" fill="none" stroke-linecap="round" stroke-linejoin="round"/>
<path d="M129.7 166.7L128.1 173.5L127.5 179.1L128.6 189.3" stroke="#fff" stroke-width="1.42" stroke-opacity="0.47" fill="none" stroke-linecap="round" stroke-linejoin="round"/>
<path d="M129.7 166.7L128.1 173.5L127.5 179.1L128.6 189.3" stroke="#fff" stroke-width="1.35" stroke-opacity="0.47" stroke-dasharray="0.8 2.4 2.2 3.6 1.2 3" fill="none" stroke-linecap="round" stroke-linejoin="round"/>
<path d="M95.9 183.6L100.4 179.1" stroke="#fff" stroke-width="1.14" stroke-opacity="0.39" fill="none" stroke-linecap="round" stroke-linejoin="round"/>
<path d="M95.9 183.6L100.4 179.1" stroke="#fff" stroke-width="1.08" stroke-opacity="0.39" stroke-dasharray="2 4.2 1 2.2 0.6 3.4" fill="none" stroke-linecap="round" stroke-linejoin="round"/>
<path d="M93.6 188.2L101.5 185.9L112.8 185.9L124.1 183.6L128.6 189.3L136.5 189.3L144.4 189.3L153.4 188.8L161.3 188.2L170.3 183.6L174.8 178.0" stroke="#fff" stroke-width="1.52" stroke-opacity="0.47" fill="none" stroke-linecap="round" stroke-linejoin="round"/>
<path d="M93.6 188.2L101.5 185.9L112.8 185.9L124.1 183.6L128.6 189.3L136.5 189.3L144.4 189.3L153.4 188.8L161.3 188.2L170.3 183.6L174.8 178.0" stroke="#fff" stroke-width="1.44" stroke-opacity="0.47" stroke-dasharray="1.5 3.5 0.8 2.6 2 4" fill="none" stroke-linecap="round" stroke-linejoin="round"/>
<path d="M161.3 188.2L166.9 194.9L174.8 193.8" stroke="#fff" stroke-width="1.33" stroke-opacity="0.44" fill="none" stroke-linecap="round" stroke-linejoin="round"/>
<path d="M161.3 188.2L166.9 194.9L174.8 193.8" stroke="#fff" stroke-width="1.26" stroke-opacity="0.44" stroke-dasharray="0.8 2.4 2.2 3.6 1.2 3" fill="none" stroke-linecap="round" stroke-linejoin="round"/>
<path d="M128.6 189.3L121.8 197.2L118.4 205.1" stroke="#fff" stroke-width="1.23" stroke-opacity="0.41" fill="none" stroke-linecap="round" stroke-linejoin="round"/>
<path d="M128.6 189.3L121.8 197.2L118.4 205.1" stroke="#fff" stroke-width="1.17" stroke-opacity="0.41" stroke-dasharray="2 4.2 1 2.2 0.6 3.4" fill="none" stroke-linecap="round" stroke-linejoin="round"/>
<path d="M128.6 189.3L132.0 195.4L134.2 200.6L136.5 205.1" stroke="#fff" stroke-width="1.23" stroke-opacity="0.41" fill="none" stroke-linecap="round" stroke-linejoin="round"/>
<path d="M128.6 189.3L132.0 195.4L134.2 200.6L136.5 205.1" stroke="#fff" stroke-width="1.17" stroke-opacity="0.41" stroke-dasharray="1.5 3.5 0.8 2.6 2 4" fill="none" stroke-linecap="round" stroke-linejoin="round"/>
<path d="M98.1 152.1L97.5 156.6L97.0 161.1" stroke="#fff" stroke-width="1.14" stroke-opacity="0.39" fill="none" stroke-linecap="round" stroke-linejoin="round"/>
<path d="M98.1 152.1L97.5 156.6L97.0 161.1" stroke="#fff" stroke-width="1.08" stroke-opacity="0.39" stroke-dasharray="0.8 2.4 2.2 3.6 1.2 3" fill="none" stroke-linecap="round" stroke-linejoin="round"/>
<path d="M171.4 157.7L174.8 161.1" stroke="#fff" stroke-width="1.33" stroke-opacity="0.44" fill="none" stroke-linecap="round" stroke-linejoin="round"/>
<path d="M171.4 157.7L174.8 161.1" stroke="#fff" stroke-width="1.26" stroke-opacity="0.44" stroke-dasharray="2 4.2 1 2.2 0.6 3.4" fill="none" stroke-linecap="round" stroke-linejoin="round"/>
<path d="M92.5 199.4L93.6 205.1" stroke="#fff" stroke-width="1.14" stroke-opacity="0.33" fill="none" stroke-linecap="round" stroke-linejoin="round"/>
<path d="M92.5 199.4L93.6 205.1" stroke="#fff" stroke-width="1.08" stroke-opacity="0.33" stroke-dasharray="1.5 3.5 0.8 2.6 2 4" fill="none" stroke-linecap="round" stroke-linejoin="round"/>
<circle cx="133.1" cy="134.0" r="1.17" fill="#fff" fill-opacity="1"/>
<circle cx="143.2" cy="145.3" r="1.26" fill="#fff" fill-opacity="1"/>
<circle cx="128.6" cy="189.3" r="1.26" fill="#fff" fill-opacity="1"/>
<circle cx="161.3" cy="188.2" r="1.35" fill="#fff" fill-opacity="1"/>
<circle cx="108.3" cy="171.2" r="1.08" fill="#fff" fill-opacity="1"/>
<circle cx="129.7" cy="166.7" r="1.08" fill="#fff" fill-opacity="1"/>
<circle cx="95.9" cy="122.8" r="1.08" fill="#fff" fill-opacity="0.9"/>
<circle cx="101.5" cy="140.8" r="1.08" fill="#fff" fill-opacity="1"/>
<circle cx="153.4" cy="132.9" r="0.99" fill="#fff" fill-opacity="1"/>
<circle cx="162.4" cy="202.8" r="0.81" fill="#fff" fill-opacity="0.8"/>
<circle cx="168.0" cy="131.8" r="0.90" fill="#fff" fill-opacity="0.9"/>
<circle cx="98.1" cy="126.1" r="0.7" fill="#fff" fill-opacity="0.6"/>
<circle cx="103.8" cy="132.9" r="0.7" fill="#fff" fill-opacity="0.6"/>
<circle cx="110.5" cy="154.3" r="0.6" fill="#fff" fill-opacity="0.5"/>
<circle cx="119.6" cy="143.1" r="0.6" fill="#fff" fill-opacity="0.4"/>
<circle cx="146.6" cy="170.1" r="0.7" fill="#fff" fill-opacity="0.6"/>
<circle cx="162.4" cy="172.4" r="0.6" fill="#fff" fill-opacity="0.4"/>
<circle cx="135.4" cy="199.4" r="0.6" fill="#fff" fill-opacity="0.5"/>
<circle cx="155.6" cy="149.8" r="0.6" fill="#fff" fill-opacity="0.5"/>
</g>
<rect x="92.2" y="119.4" width="85.9" height="86.5" fill="none" stroke="#030303" stroke-width="1.8"/>
</g>
<text transform="translate(28.95 116.20) scale(1.0483 1)" font-size="12.4" stroke="#000" stroke-width="0.22">control</text>
<text transform="translate(113.43 116.20) scale(1.0352 1)" font-size="12.5" stroke="#000" stroke-width="0.22">MALP-2</text>
<text transform="translate(-0.86 218.90) scale(1.0190 1)" font-size="12.6" stroke="#000" stroke-width="0.22">MALP-2+TLR-AB</text>
<text transform="translate(119.16 218.80) scale(1.0269 1)" font-size="12.6" stroke="#000" stroke-width="0.22">bFGF</text>
<text transform="translate(195.00 12.50) scale(1.0234 1)" font-size="17.3" font-weight="bold" stroke="#000" stroke-width="0.4">B</text>
<path d="M229.2 46.60V170.80M232.0 170.6H494.3" stroke="#000" stroke-width="2.0" fill="none"/>
<path d="M225.20 169.80H229.2" stroke="#000" stroke-width="2.0"/>
<text transform="translate(215.92 174.25) scale(1.0000 1)" font-size="12.9" stroke="#000" stroke-width="0.22">0</text>
<path d="M225.20 150.70H229.2" stroke="#000" stroke-width="2.0"/>
<text transform="translate(208.76 155.15) scale(1.0000 1)" font-size="12.9" stroke="#000" stroke-width="0.22">10</text>
<path d="M225.20 129.80H229.2" stroke="#000" stroke-width="2.0"/>
<text transform="translate(208.76 134.25) scale(1.0000 1)" font-size="12.9" stroke="#000" stroke-width="0.22">20</text>
<path d="M225.20 109.60H229.2" stroke="#000" stroke-width="2.0"/>
<text transform="translate(208.76 114.05) scale(1.0000 1)" font-size="12.9" stroke="#000" stroke-width="0.22">30</text>
<path d="M225.20 89.20H229.2" stroke="#000" stroke-width="2.0"/>
<text transform="translate(208.76 93.65) scale(1.0000 1)" font-size="12.9" stroke="#000" stroke-width="0.22">40</text>
<path d="M225.20 67.80H229.2" stroke="#000" stroke-width="2.0"/>
<text transform="translate(208.76 72.25) scale(1.0000 1)" font-size="12.9" stroke="#000" stroke-width="0.22">50</text>
<path d="M225.20 47.60H229.2" stroke="#000" stroke-width="2.0"/>
<text transform="translate(208.76 52.05) scale(1.0000 1)" font-size="12.9" stroke="#000" stroke-width="0.22">60</text>
<text transform="translate(203.80 167.76) rotate(-90) scale(1.0894 1)" font-size="11.7" stroke="#000" stroke-width="0.2"># tube like structures</text>
<path d="M244.35 154.30H254.65M249.50 154.30V156.60" stroke="#000" stroke-width="2.0" fill="none"/>
<rect x="236.90" y="156.70" width="25.20" height="13.10" fill="#fff" stroke="#000" stroke-width="1.8"/>
<path d="M281.35 96.00H291.65M286.50 96.00V113.40" stroke="#000" stroke-width="2.0" fill="none"/>
<rect x="274.00" y="113.50" width="25.00" height="56.30" fill="#999" stroke="#000" stroke-width="1.8"/>
<path d="M320.10 81.50H330.40M325.25 81.50V101.10" stroke="#000" stroke-width="2.0" fill="none"/>
<rect x="312.60" y="101.20" width="25.30" height="68.60" fill="#999" stroke="#000" stroke-width="1.8"/>
<path d="M357.70 60.90H368.00M362.85 60.90V84.30" stroke="#000" stroke-width="2.0" fill="none"/>
<rect x="350.00" y="84.40" width="25.70" height="85.40" fill="#999" stroke="#000" stroke-width="1.8"/>
<path d="M397.3 134.30H408.2M402.0 134.30V151.60" stroke="#000" stroke-width="2" fill="none"/>
<clipPath id="hclip"><rect x="389.90" y="151.70" width="25.20" height="18.10"/></clipPath>
<rect x="389.90" y="151.70" width="25.20" height="18.10" fill="#fff"/>
<path d="M370.7 174.3L395.2 144.3M379.9 174.3L404.4 144.3M389.1 174.3L413.6 144.3M398.3 174.3L422.8 144.3M407.5 174.3L432.0 144.3" stroke="#000" stroke-width="2.6" fill="none" clip-path="url(#hclip)"/>
<rect x="389.90" y="151.70" width="25.20" height="18.10" fill="none" stroke="#000" stroke-width="1.8"/>
<path d="M434.60 68.80H444.90M439.75 68.80V87.40" stroke="#000" stroke-width="2.0" fill="none"/>
<rect x="427.00" y="87.50" width="25.50" height="82.30" fill="#555" stroke="#000" stroke-width="1.8"/>
<path d="M471.85 77.50H482.15M477.00 77.50V92.80" stroke="#000" stroke-width="2.0" fill="none"/>
<rect x="464.00" y="92.90" width="26.00" height="76.90" fill="#000" stroke="#000" stroke-width="1.8"/>
<text x="325.60" y="80.54" font-size="19" text-anchor="middle" stroke="#000" stroke-width="0.45">*</text>
<text x="363.45" y="57.94" font-size="19" text-anchor="middle" stroke="#000" stroke-width="0.45" letter-spacing="1.3">**</text>
<text x="440.65" y="64.74" font-size="19" text-anchor="middle" stroke="#000" stroke-width="0.45" letter-spacing="1.3">**</text>
<text x="477.65" y="73.74" font-size="19" text-anchor="middle" stroke="#000" stroke-width="0.45" letter-spacing="1.3">**</text>
<text transform="translate(398.74 127.20) scale(1.1437 1)" font-size="10.7" stroke="#000" stroke-width="0.22">#</text>
<text transform="translate(231.12 184.60) scale(1.0216 1)" font-size="11.1" stroke="#000" stroke-width="0.22">control</text>
<text transform="translate(275.17 184.60) scale(0.9970 1)" font-size="10.8" stroke="#000" stroke-width="0.22">0.01</text>
<text transform="translate(317.66 184.70) scale(1.0237 1)" font-size="10.8" stroke="#000" stroke-width="0.22">0.1</text>
<text transform="translate(355.58 184.70) scale(1.0075 1)" font-size="10.8" stroke="#000" stroke-width="0.22">1.0</text>
<path d="M274.1 187.3H373.8" stroke="#000" stroke-width="1.7"/>
<text transform="translate(281.96 201.10) scale(1.0863 1)" font-size="10.5" stroke="#000" stroke-width="0.22">MALP-2 [µg/mL]</text>
<text transform="translate(378.96 184.50) scale(1.0544 1)" font-size="10.8" stroke="#000" stroke-width="0.22">MALP-2</text>
<text transform="translate(422.36 184.50) scale(1.0571 1)" font-size="10.8" stroke="#000" stroke-width="0.22">MALP-2</text>
<text transform="translate(465.79 184.50) scale(1.0091 1)" font-size="10.8" stroke="#000" stroke-width="0.22">bFGF</text>
<text transform="translate(377.13 196.30) scale(1.1380 1)" font-size="8.3" stroke="#000" stroke-width="0.35">+TLR2-AB</text>
<text transform="translate(377.13 207.60) scale(1.1380 1)" font-size="8.3" stroke="#000" stroke-width="0.35">+TLR6-AB</text>
<text transform="translate(432.33 196.30) scale(1.1292 1)" font-size="8.3" stroke="#000" stroke-width="0.35">+IgG</text>
<text transform="translate(1.10 242.60) scale(0.9976 1)" font-size="17.6" font-weight="bold" stroke="#000" stroke-width="0.4">C</text>
<path d="M39.7 258.90V374.70M42.8 374.15H186.3" stroke="#000" stroke-width="2.2" fill="none"/>
<path d="M36.30 373.70H39.7" stroke="#000" stroke-width="2.0"/>
<text transform="translate(27.79 377.32) scale(1.0700 1)" font-size="10.5" stroke="#000" stroke-width="0.22">0</text>
<path d="M36.30 362.32H39.7" stroke="#000" stroke-width="2.0"/>
<text transform="translate(18.55 365.94) scale(1.0700 1)" font-size="10.5" stroke="#000" stroke-width="0.22">0.2</text>
<path d="M36.30 350.94H39.7" stroke="#000" stroke-width="2.0"/>
<text transform="translate(18.29 354.56) scale(1.0700 1)" font-size="10.5" stroke="#000" stroke-width="0.22">0.4</text>
<path d="M36.30 339.56H39.7" stroke="#000" stroke-width="2.0"/>
<text transform="translate(18.46 343.18) scale(1.0700 1)" font-size="10.5" stroke="#000" stroke-width="0.22">0.6</text>
<path d="M36.30 328.18H39.7" stroke="#000" stroke-width="2.0"/>
<text transform="translate(18.46 331.80) scale(1.0700 1)" font-size="10.5" stroke="#000" stroke-width="0.22">0.8</text>
<path d="M36.30 316.80H39.7" stroke="#000" stroke-width="2.0"/>
<text transform="translate(18.40 320.42) scale(1.0700 1)" font-size="10.5" stroke="#000" stroke-width="0.22">1.0</text>
<path d="M36.30 305.42H39.7" stroke="#000" stroke-width="2.0"/>
<text transform="translate(18.55 309.04) scale(1.0700 1)" font-size="10.5" stroke="#000" stroke-width="0.22">1.2</text>
<path d="M36.30 294.04H39.7" stroke="#000" stroke-width="2.0"/>
<text transform="translate(18.29 297.66) scale(1.0700 1)" font-size="10.5" stroke="#000" stroke-width="0.22">1.4</text>
<path d="M36.30 282.66H39.7" stroke="#000" stroke-width="2.0"/>
<text transform="translate(18.46 286.28) scale(1.0700 1)" font-size="10.5" stroke="#000" stroke-width="0.22">1.6</text>
<path d="M36.30 271.28H39.7" stroke="#000" stroke-width="2.0"/>
<text transform="translate(18.46 274.90) scale(1.0700 1)" font-size="10.5" stroke="#000" stroke-width="0.22">1.8</text>
<path d="M36.30 259.90H39.7" stroke="#000" stroke-width="2.0"/>
<text transform="translate(18.40 263.52) scale(1.0700 1)" font-size="10.5" stroke="#000" stroke-width="0.22">2.0</text>
<text transform="translate(11.90 385.19) rotate(-90) scale(1.0098 1)" font-size="10.7" stroke="#000" stroke-width="0.2">BrdU-Incorporation (OD</text>
<text transform="translate(14.10 270.54) rotate(-90) scale(0.8929 1)" font-size="6.6" stroke="#000" stroke-width="0.2">560nm</text>
<text transform="translate(11.90 252.41) rotate(-90) scale(1.3529 1)" font-size="10.7" stroke="#000" stroke-width="0.2">)</text>
<path d="M52.30 329.10H62.60M57.45 329.10V335.20" stroke="#000" stroke-width="2.0" fill="none"/>
<rect x="47.20" y="335.40" width="20.50" height="38.30" fill="#fff" stroke="#000" stroke-width="2.0"/>
<path d="M80.00 287.20H90.30M85.15 287.20V293.10" stroke="#000" stroke-width="2.0" fill="none"/>
<rect x="75.10" y="293.30" width="20.10" height="80.40" fill="#999" stroke="#000" stroke-width="2.0"/>
<path d="M107.80 281.00H118.10M112.95 281.00V284.40" stroke="#000" stroke-width="2.0" fill="none"/>
<rect x="102.90" y="284.60" width="20.10" height="89.10" fill="#999" stroke="#000" stroke-width="2.0"/>
<path d="M135.60 278.70H145.90M140.75 278.70V282.00" stroke="#000" stroke-width="2.0" fill="none"/>
<rect x="130.70" y="282.20" width="20.10" height="91.50" fill="#999" stroke="#000" stroke-width="2.0"/>
<path d="M163.70 269.20H174.00M168.85 269.20V273.40" stroke="#000" stroke-width="2.0" fill="none"/>
<rect x="158.70" y="273.60" width="20.30" height="100.10" fill="#000" stroke="#000" stroke-width="2.0"/>
<text x="85.40" y="285.94" font-size="19" text-anchor="middle" stroke="#000" stroke-width="0.45">*</text>
<text x="113.95" y="278.44" font-size="19" text-anchor="middle" stroke="#000" stroke-width="0.45" letter-spacing="1.3">**</text>
<text x="141.65" y="277.24" font-size="19" text-anchor="middle" stroke="#000" stroke-width="0.45" letter-spacing="1.3">**</text>
<text x="169.35" y="268.44" font-size="19" text-anchor="middle" stroke="#000" stroke-width="0.45" letter-spacing="1.3">**</text>
<text transform="translate(38.72 388.30) scale(1.0216 1)" font-size="11.1" stroke="#000" stroke-width="0.22">control</text>
<text transform="translate(75.47 388.30) scale(1.0019 1)" font-size="10.8" stroke="#000" stroke-width="0.22">0.01</text>
<text transform="translate(105.77 388.40) scale(1.0023 1)" font-size="10.8" stroke="#000" stroke-width="0.22">0.1</text>
<text transform="translate(134.18 388.50) scale(1.0075 1)" font-size="10.8" stroke="#000" stroke-width="0.22">1.0</text>
<text transform="translate(158.87 388.80) scale(1.0398 1)" font-size="10.8" stroke="#000" stroke-width="0.22">FCS</text>
<path d="M72.3 392.0H150.8" stroke="#000" stroke-width="1.7"/>
<text transform="translate(71.98 404.00) scale(1.0662 1)" font-size="10.5" stroke="#000" stroke-width="0.22">MALP-2 [µg/mL]</text>
<text transform="translate(194.85 242.60) scale(1.0542 1)" font-size="17.5" font-weight="bold" stroke="#000" stroke-width="0.4">D</text>
<path d="M242.9 258.98V374.80M246.0 374.2H388.5" stroke="#000" stroke-width="2.2" fill="none"/>
<path d="M238.80 373.80H242.9" stroke="#000" stroke-width="2.0"/>
<text transform="translate(230.90 377.46) scale(1.0400 1)" font-size="10.6" stroke="#000" stroke-width="0.22">0</text>
<path d="M238.80 354.83H242.9" stroke="#000" stroke-width="2.0"/>
<text transform="translate(212.51 358.49) scale(1.0400 1)" font-size="10.6" stroke="#000" stroke-width="0.22">2500</text>
<path d="M238.80 335.86H242.9" stroke="#000" stroke-width="2.0"/>
<text transform="translate(212.51 339.52) scale(1.0400 1)" font-size="10.6" stroke="#000" stroke-width="0.22">5000</text>
<path d="M238.80 316.89H242.9" stroke="#000" stroke-width="2.0"/>
<text transform="translate(212.51 320.55) scale(1.0400 1)" font-size="10.6" stroke="#000" stroke-width="0.22">7500</text>
<path d="M238.80 297.92H242.9" stroke="#000" stroke-width="2.0"/>
<text transform="translate(206.37 301.58) scale(1.0400 1)" font-size="10.6" stroke="#000" stroke-width="0.22">10000</text>
<path d="M238.80 278.95H242.9" stroke="#000" stroke-width="2.0"/>
<text transform="translate(206.37 282.61) scale(1.0400 1)" font-size="10.6" stroke="#000" stroke-width="0.22">12500</text>
<path d="M238.80 259.98H242.9" stroke="#000" stroke-width="2.0"/>
<text transform="translate(206.37 263.64) scale(1.0400 1)" font-size="10.6" stroke="#000" stroke-width="0.22">15000</text>
<text transform="translate(204.10 360.56) rotate(-90) scale(1.0796 1)" font-size="11.8" stroke="#000" stroke-width="0.2"># migrated cells</text>
<path d="M255.75 350.80H266.05M260.90 350.80V355.00" stroke="#000" stroke-width="2.0" fill="none"/>
<rect x="251.00" y="355.20" width="19.80" height="18.60" fill="#fff" stroke="#000" stroke-width="2.0"/>
<path d="M282.95 348.30H293.25M288.10 348.30V351.30" stroke="#000" stroke-width="2.0" fill="none"/>
<rect x="278.20" y="351.50" width="19.80" height="22.30" fill="#999" stroke="#000" stroke-width="2.0"/>
<path d="M310.45 354.50H320.75M315.60 354.50V357.00" stroke="#000" stroke-width="2.0" fill="none"/>
<rect x="305.70" y="357.20" width="19.80" height="16.60" fill="#999" stroke="#000" stroke-width="2.0"/>
<path d="M338.15 348.60H348.45M343.30 348.60V351.30" stroke="#000" stroke-width="2.0" fill="none"/>
<rect x="333.20" y="351.50" width="20.20" height="22.30" fill="#999" stroke="#000" stroke-width="2.0"/>
<path d="M366.35 269.80H376.65M371.50 269.80V277.80" stroke="#000" stroke-width="2.0" fill="none"/>
<rect x="361.30" y="278.00" width="20.40" height="95.80" fill="#000" stroke="#000" stroke-width="2.0"/>
<text x="373.25" y="267.74" font-size="19" text-anchor="middle" stroke="#000" stroke-width="0.45" letter-spacing="1.3">**</text>
<text transform="translate(241.82 388.10) scale(1.0154 1)" font-size="11.1" stroke="#000" stroke-width="0.22">control</text>
<text transform="translate(278.17 388.10) scale(1.0069 1)" font-size="10.8" stroke="#000" stroke-width="0.22">0.01</text>
<text transform="translate(308.78 388.10) scale(0.9810 1)" font-size="10.8" stroke="#000" stroke-width="0.22">0.1</text>
<text transform="translate(336.59 388.10) scale(1.0002 1)" font-size="10.8" stroke="#000" stroke-width="0.22">1.0</text>
<text transform="translate(361.08 388.10) scale(1.0299 1)" font-size="10.8" stroke="#000" stroke-width="0.22">FCS</text>
<path d="M276.3 391.9H354.8" stroke="#000" stroke-width="1.7"/>
<text transform="translate(275.68 403.90) scale(1.0635 1)" font-size="10.5" stroke="#000" stroke-width="0.22">MALP-2 [µg/mL]</text>
<text transform="translate(392.47 242.60) scale(1.0408 1)" font-size="17.5" font-weight="bold" stroke="#000" stroke-width="0.4">E</text>
<path d="M445.2 259.08V374.30M448.8 373.5H516.9" stroke="#000" stroke-width="2.2" fill="none"/>
<path d="M441.10 373.30H445.2" stroke="#000" stroke-width="2.0"/>
<text transform="translate(433.70 376.96) scale(1.0400 1)" font-size="10.6" stroke="#000" stroke-width="0.22">0</text>
<path d="M441.10 354.43H445.2" stroke="#000" stroke-width="2.0"/>
<text transform="translate(415.31 358.09) scale(1.0400 1)" font-size="10.6" stroke="#000" stroke-width="0.22">2500</text>
<path d="M441.10 335.56H445.2" stroke="#000" stroke-width="2.0"/>
<text transform="translate(415.31 339.22) scale(1.0400 1)" font-size="10.6" stroke="#000" stroke-width="0.22">5000</text>
<path d="M441.10 316.69H445.2" stroke="#000" stroke-width="2.0"/>
<text transform="translate(415.31 320.35) scale(1.0400 1)" font-size="10.6" stroke="#000" stroke-width="0.22">7500</text>
<path d="M441.10 297.82H445.2" stroke="#000" stroke-width="2.0"/>
<text transform="translate(409.17 301.48) scale(1.0400 1)" font-size="10.6" stroke="#000" stroke-width="0.22">10000</text>
<path d="M441.10 278.95H445.2" stroke="#000" stroke-width="2.0"/>
<text transform="translate(409.17 282.61) scale(1.0400 1)" font-size="10.6" stroke="#000" stroke-width="0.22">12500</text>
<path d="M441.10 260.08H445.2" stroke="#000" stroke-width="2.0"/>
<text transform="translate(409.17 263.74) scale(1.0400 1)" font-size="10.6" stroke="#000" stroke-width="0.22">15000</text>
<text transform="translate(404.10 360.56) rotate(-90) scale(1.0796 1)" font-size="11.8" stroke="#000" stroke-width="0.2"># migrated cells</text>
<path d="M459.30 328.30H469.60M464.45 328.30V332.60" stroke="#000" stroke-width="2.0" fill="none"/>
<rect x="454.30" y="332.80" width="20.30" height="40.50" fill="#fff" stroke="#000" stroke-width="2.0"/>
<path d="M494.95 297.60H505.25M500.10 297.60V306.50" stroke="#000" stroke-width="2.0" fill="none"/>
<rect x="490.00" y="306.70" width="20.20" height="66.60" fill="#999" stroke="#000" stroke-width="2.0"/>
<text x="500.00" y="295.74" font-size="19" text-anchor="middle" stroke="#000" stroke-width="0.45">*</text>
<text transform="translate(448.65 268.60) scale(1.0756 1)" font-size="11.8" stroke="#000" stroke-width="0.22">supernatant</text>
<text transform="translate(442.22 388.10) scale(1.0216 1)" font-size="11.1" stroke="#000" stroke-width="0.22">control</text>
<text transform="translate(479.34 388.10) scale(1.0730 1)" font-size="10.8" stroke="#000" stroke-width="0.22">MALP-2</text>
</svg>
</body></html>
